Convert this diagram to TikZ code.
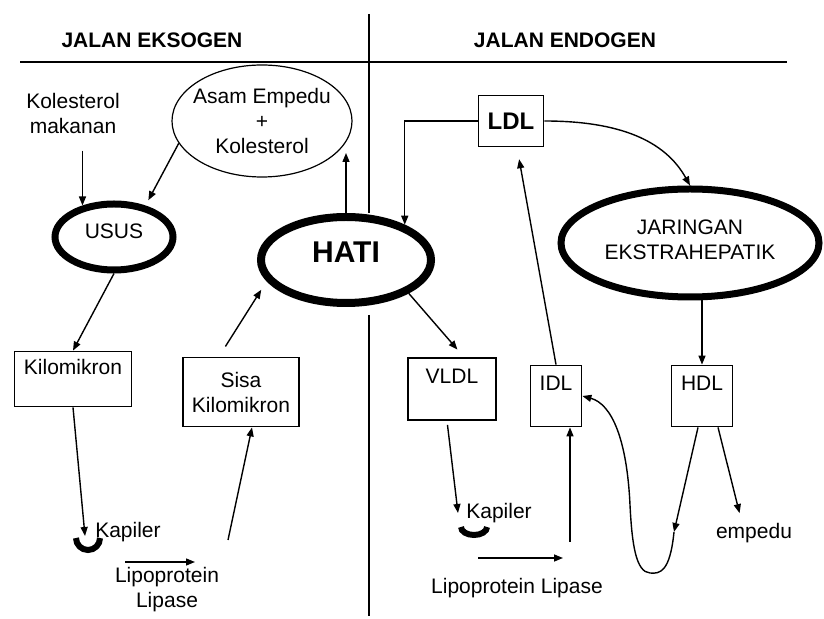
\documentclass[tikz,border=0pt]{standalone}
\usepackage{fontspec}
\setmainfont{Liberation Sans}
\usepackage{tikz}
\usetikzlibrary{arrows.meta,shapes.geometric}
\newcommand{\txtsz}{\fontsize{10.5}{12.5}\selectfont}

\begin{document}
\begin{tikzpicture}[x=0.5pt, y=-0.5pt, tx/.style={align=center, font=\txtsz, inner sep=0pt}, hd/.style={tx, font=\txtsz\bfseries}, bx/.style={draw, line width=0.9pt, align=center, font=\txtsz, inner sep=0pt}, oval/.style={draw, ellipse, line width=0.6pt, align=center, font=\txtsz, inner sep=0pt}, organ/.style={draw, ellipse, line width=3.5pt, fill=white, align=center, font=\txtsz, inner sep=0pt}, arr/.style={-{Triangle[length=4.5pt,width=3.5pt]}, line width=0.7pt}, rule/.style={line width=0.9pt}, cup/.style={line width=3pt}]
\useasboundingbox (0,0) rectangle (824,619);
\node[hd] (eks) at (152,40) {JALAN EKSOGEN};
\node[hd] (endo) at (565,40) {JALAN ENDOGEN};
\coordinate (hl) at (20,62); \coordinate (hr) at (787,62);
\coordinate (divT) at (369,14); \coordinate (divB) at (369,616);
\draw[rule] (hl) -- (hr);
\node[tx] (kol) at (73,114) {Kolesterol\\makanan};
\node[oval, minimum width=90pt, minimum height=56pt, inner xsep=-4pt] (asam) at (262,121) {Asam Empedu\\+\\Kolesterol};
\node[organ, minimum width=59pt, minimum height=33pt, text depth=6pt] (usus) at (114,237) {USUS};
\node[organ, line width=4pt, minimum width=85pt, minimum height=43pt, text depth=8pt, font=\fontsize{15}{18}\selectfont\bfseries] (hati) at (346,260) {HATI};
\node[bx, minimum width=58.5pt, minimum height=27.5pt] (kilo) at (73,379) {Kilomikron\\~};
\node[bx, minimum width=58pt, minimum height=34.5pt] (sisa) at (241,392) {Sisa\\Kilomikron};
\node[tx] (kapL) at (128,532) {Kapiler};
\node[tx] (lipL) at (167,590) {Lipoprotein\\Lipase};
\node[bx, minimum width=32.5pt, minimum height=25.5pt, font=\fontsize{12}{14}\selectfont\bfseries] (ldl) at (511,121) {LDL};
\node[organ, minimum width=129pt, minimum height=54pt, text depth=3pt] (jar) at (690,243) {JARINGAN\\EKSTRAHEPATIK};
\node[bx, minimum width=44pt, minimum height=31pt] (vldl) at (452,389) {VLDL\\~};
\node[bx, minimum width=25.5pt, minimum height=30.5pt] (idl) at (556,396) {IDL\\~};
\node[bx, minimum width=30.5pt, minimum height=30.5pt] (hdl) at (702,396) {HDL\\~};
\node[tx] (kapR) at (499,513) {Kapiler};
\node[tx] (lipR) at (517,588) {Lipoprotein Lipase};
\node[tx] (emp) at (754,533) {empedu};
\coordinate (cupL) at (88,538); \coordinate (cupR) at (474,527);
\coordinate (kapLtip) at (85,536); \coordinate (kapRtip) at (458,513);
\coordinate (lipLa) at (125,562); \coordinate (lipLb) at (195,562);
\coordinate (lipRa) at (478,558); \coordinate (lipRb) at (563,558);
\coordinate (sisaIn) at (228,540); \coordinate (idlIn) at (570,542);
\coordinate (hdlBend) at (674,532);
\draw[rule] (divT) -- (hati.north -| divT); \draw[rule] ([yshift=-4pt]hati.south -| divT) -- (divB);
\draw[cup] (cupL) ++(-12,0) arc[start angle=180, end angle=0, radius=12];
\draw[cup] (cupR) ++(-13,0) arc[start angle=180, end angle=0, x radius=13, y radius=8];
\draw[arr, shorten <=8pt] (kol.south -| usus.135) -- (usus.135);
\draw[arr, shorten >=3pt] (asam.195) -- (usus.45);
\draw[arr, shorten >=16pt] (hati.north) -- (hati.north |- asam.east);
\draw[arr] (usus.south) -- (kilo.north); \draw[arr] (kilo.south) -- (kapLtip);
\draw[arr] (lipLa) -- (lipLb); \draw[arr] (sisaIn) -- ([xshift=5.5pt]sisa.south);
\draw[arr, shorten <=6pt, shorten >=5pt] ([xshift=-11pt]sisa.north) -- (hati.195);
\draw[arr] (ldl.west) -| (hati.31);
\draw[arr] (ldl.east) .. controls +(75,0) and +(-25,-45) .. (jar.north);
\draw[arr, shorten >=6pt] (idl.north) -- ([xshift=3pt]ldl.south);
\draw[arr, shorten >=5pt] (hati.332) -- ([xshift=6pt]vldl.north);
\draw[arr, shorten <=2pt] ([xshift=-2.5pt]vldl.south) -- (kapRtip);
\draw[arr] (lipRa) -- (lipRb); \draw[arr] (idlIn) -- ([xshift=7pt]idl.south);
\draw[arr] (jar.south -| hdl.north) -- (hdl.north);
\draw[arr] ([xshift=-2pt]hdl.south) -- (hdlBend);
\draw[arr] (hdlBend) .. controls (670,572) and (660,574) .. (650,573) .. controls (636,572) and (632,545) .. (630,505) .. controls (627,440) and (612,404) .. (idl.east);
\draw[arr, shorten >=5pt] ([xshift=8pt]hdl.south) -- ([xshift=-6pt]emp.north);
\end{tikzpicture}
\end{document}
